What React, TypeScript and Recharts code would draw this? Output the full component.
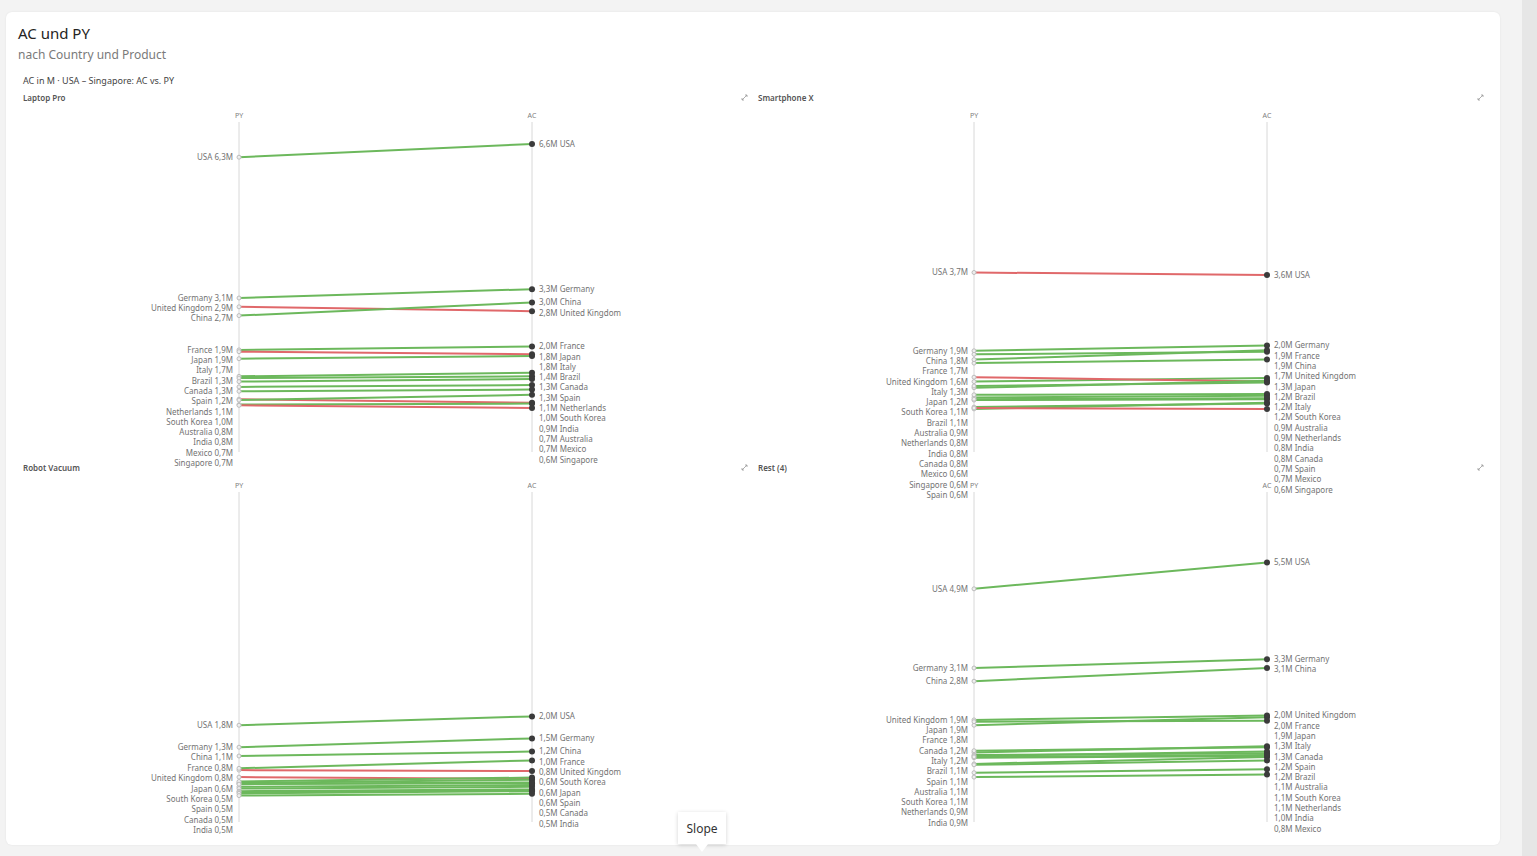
import { LineChart, Line, XAxis, YAxis, CartesianGrid } from 'recharts';

// countries in the same order for every value array below
const countries = [
  'USA', 'Germany', 'United Kingdom', 'China', 'France', 'Japan', 'Italy', 'Brazil',
  'Canada', 'Spain', 'Netherlands', 'South Korea', 'Australia', 'India', 'Mexico', 'Singapore',
];
const periods = ['PY', 'AC'];
const products = ['Laptop Pro', 'Smartphone X', 'Robot Vacuum', 'Rest (4)'];

// values in M
const laptopPY = [6.3, 3.1, 2.9, 2.7, 1.92, 1.88, 1.72, 1.32, 1.28, 1.2, 1.08, 0.98, 0.8, 0.78, 0.68, 0.66];
const laptopAC = [6.6, 3.3, 2.8, 3.0, 2.0, 1.82, 1.78, 1.4, 1.32, 1.26, 1.12, 1.02, 0.72, 0.9, 0.7, 0.6];
const phonePY = [3.68, 1.9, 1.62, 1.82, 1.7, 1.2, 1.3, 1.06, 0.78, 0.58, 0.84, 1.1, 0.9, 0.8, 0.62, 0.6];
const phoneAC = [3.62, 2.02, 1.7, 1.88, 1.91, 1.28, 1.2, 1.22, 0.8, 0.72, 0.88, 1.18, 0.92, 0.82, 0.7, 0.58];
const robotPY = [1.8, 1.3, 0.78, 1.1, 0.82, 0.62, 0.4, 0.36, 0.47, 0.49, 0.3, 0.52, 0.28, 0.46, 0.25, 0.2];
const robotAC = [2.0, 1.5, 0.76, 1.2, 1.0, 0.58, 0.44, 0.4, 0.5, 0.56, 0.34, 0.61, 0.32, 0.48, 0.3, 0.24];
const restPY = [4.9, 3.1, 1.92, 2.8, 1.8, 1.88, 1.18, 1.12, 1.22, 1.1, 0.92, 1.06, 1.08, 0.9, 0.72, 0.62];
const restAC = [5.5, 3.3, 2.02, 3.1, 1.98, 1.9, 1.32, 1.16, 1.3, 1.2, 1.08, 1.1, 1.12, 1.0, 0.8, 0.68];

const FONT = "'Segoe UI', 'Noto Sans', 'Open Sans', sans-serif";
const GREEN = '#6cb85c';
const RED = '#e0686a';
const Y_DOMAIN: [number, number] = [-0.4, 7.1];
const PLOT_H = 330;
const CHART_W = 735;
const CHART_H = 400;
const LABEL_GAP = 10.3;

const fmt = (v: number) => `${v.toFixed(1).replace('.', ',')}M`;

// push overlapping labels down, returns pixel offset per country
function labelOffsets(values: number[]) {
  const k = PLOT_H / (Y_DOMAIN[1] - Y_DOMAIN[0]);
  const order = values.map((_, i) => i).sort((a, b) => values[b] - values[a]);
  const off = new Array(values.length).fill(0);
  let prev = -Infinity;
  order.forEach((i) => {
    const y = (Y_DOMAIN[1] - values[i]) * k;
    const ly = Math.max(y, prev + LABEL_GAP);
    off[i] = ly - y;
    prev = ly;
  });
  return off;
}

function ExpandIcon({ left, top }: { left: number; top: number }) {
  return (
    <svg width={7} height={7} style={{ position: 'absolute', left, top }}>
      <path d="M1 6 L6 1 M4 1 L6 1 L6 3 M1 4 L1 6 L3 6" stroke="#999" strokeWidth={0.8} fill="none" />
    </svg>
  );
}

interface PanelProps {
  title: string;
  py: number[];
  ac: number[];
  left: number;
  top: number;
  labelLimit?: number; // labels below this (chart px) are cut off by the visual frame
}

function SlopePanel({ title, py, ac, left, top, labelLimit = Infinity }: PanelProps) {
  const data = periods.map((p, pi) => {
    const row: Record<string, string | number> = { period: p };
    countries.forEach((c, i) => {
      row[c] = pi === 0 ? py[i] : ac[i];
    });
    return row;
  });
  const offPY = labelOffsets(py);
  const offAC = labelOffsets(ac);

  return (
    <div style={{ position: 'absolute', left, top, width: CHART_W, height: CHART_H }}>
      <div
        style={{
          position: 'absolute', left: 23, top: -8, fontSize: 8, fontWeight: 600,
          color: '#555', fontFamily: FONT, whiteSpace: 'nowrap',
        }}
      >
        {title}
      </div>
      <LineChart
        width={CHART_W}
        height={CHART_H}
        data={data}
        margin={{ top: 2, right: CHART_W - 532, bottom: CHART_H - 22 - PLOT_H, left: 239 }}
      >
        <CartesianGrid horizontal={false} stroke="#d8d8d8" />
        <XAxis
          dataKey="period"
          orientation="top"
          height={20}
          axisLine={false}
          tickLine={false}
          tickSize={2}
          tickMargin={2}
          interval={0}
          tick={{ fontSize: 7, fill: '#808080', fontFamily: FONT }}
        />
        <YAxis hide type="number" domain={Y_DOMAIN} allowDataOverflow />
        {countries.map((c, i) => (
          <Line
            key={c}
            dataKey={c}
            isAnimationActive={false}
            stroke={ac[i] >= py[i] ? GREEN : RED}
            strokeWidth={2}
            dot={(p: any) =>
              p.index === 0 ? (
                <circle key={`${c}-d0`} cx={p.cx} cy={p.cy} r={2} fill="#eee" stroke="#bdbdbd" strokeWidth={1} />
              ) : (
                <circle key={`${c}-d1`} cx={p.cx} cy={p.cy} r={3} fill="#3b3b3b" />
              )
            }
            activeDot={false}
            label={(p: any) => {
              const isPY = p.index === 0;
              const v = isPY ? py[i] : ac[i];
              const ly = p.y + (isPY ? offPY : offAC)[i];
              if (ly > labelLimit) return <g key={`${c}-l${p.index}`} />;
              return (
                <text
                  key={`${c}-l${p.index}`}
                  x={isPY ? p.x - 6 : p.x + 7}
                  y={ly}
                  dy="0.35em"
                  textAnchor={isPY ? 'end' : 'start'}
                  fontSize={8}
                  fontFamily={FONT}
                  fill="#737373"
                >
                  {isPY ? `${c} ${fmt(v)}` : `${fmt(v)} ${c}`}
                </text>
              );
            }}
          />
        ))}
      </LineChart>
    </div>
  );
}

export default function App() {
  return (
    <div style={{ position: 'fixed', inset: 0, background: '#f3f3f3', fontFamily: FONT, overflow: 'hidden' }}>
      <div style={{ position: 'absolute', left: 1522, top: 0, width: 15, height: 856, background: '#e6e6e6' }} />
      <div
        style={{
          position: 'absolute', left: 6, top: 12, width: 1494, height: 833, background: '#fff',
          borderRadius: 6, boxShadow: '0 0 2px rgba(0,0,0,0.08)',
        }}
      />
      <div style={{ position: 'absolute', left: 18, top: 23, fontSize: 15, color: '#252423' }}>AC und PY</div>
      <div style={{ position: 'absolute', left: 18, top: 46, fontSize: 12, color: '#7a7a7a' }}>nach Country und Product</div>
      <div style={{ position: 'absolute', left: 23, top: 74, fontSize: 9, color: '#444' }}>
        AC in M · USA – Singapore: AC vs. PY
      </div>

      <div style={{ position: 'absolute', left: 0, top: 0, width: 1537, height: 838, overflow: 'hidden' }}>
        <SlopePanel title={products[0]} py={laptopPY} ac={laptopAC} left={0} top={100} />
        <SlopePanel title={products[1]} py={phonePY} ac={phoneAC} left={735} top={100} />
        <SlopePanel title={products[2]} py={robotPY} ac={robotAC} left={0} top={470} labelLimit={361} />
        <SlopePanel title={products[3]} py={restPY} ac={restAC} left={735} top={470} labelLimit={361} />
        <ExpandIcon left={741} top={94} />
        <ExpandIcon left={1477} top={94} />
        <ExpandIcon left={741} top={464} />
        <ExpandIcon left={1477} top={464} />
      </div>

      <div
        style={{
          position: 'absolute', left: 678, top: 812, width: 48, height: 32, background: '#fff',
          boxShadow: '0 1px 4px rgba(0,0,0,0.18)', display: 'flex', alignItems: 'center',
          justifyContent: 'center', fontSize: 12, color: '#333',
        }}
      >
        Slope
      </div>
      <div
        style={{
          position: 'absolute', left: 696, top: 844, width: 0, height: 0,
          borderLeft: '6px solid transparent', borderRight: '6px solid transparent',
          borderTop: '8px solid #fff',
        }}
      />
    </div>
  );
}
